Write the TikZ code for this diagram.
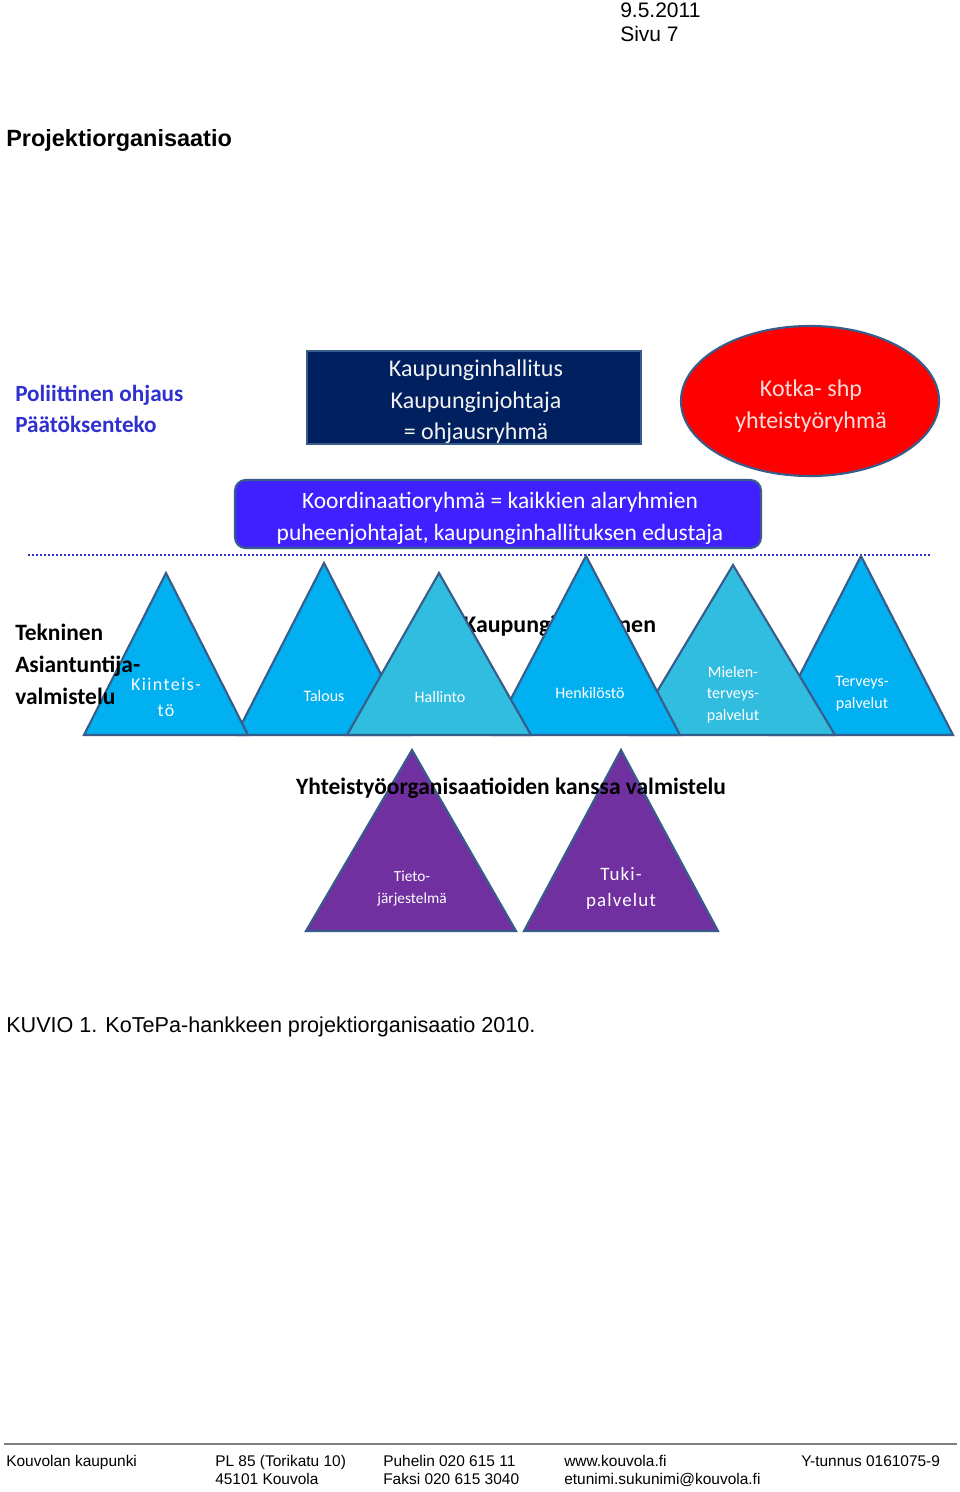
\documentclass[tikz,border=0pt]{standalone}
\usepackage{fontspec}
\setmainfont{Carlito}
\newfontfamily\arial{Liberation Sans}
\definecolor{navy}{HTML}{002060}
\definecolor{edge}{HTML}{385D8A}
\definecolor{polblue}{HTML}{3030D0}
\definecolor{koord}{HTML}{4020FF}
\definecolor{cyanA}{HTML}{00B0F0}
\definecolor{cyanB}{HTML}{31BDE0}
\definecolor{purp}{HTML}{7030A0}
\definecolor{pinkish}{HTML}{F8DCDC}
\tikzset{
  tri/.style={draw=edge, line width=1.6pt, line join=miter},
  tlab/.style={text=white, font=\fontsize{12}{14}\selectfont, anchor=base, align=center},
  bigtxt/.style={font=\fontsize{18}{24}\selectfont, anchor=base},
  hdr/.style={font=\arial\fontsize{15.75}{18}\selectfont, anchor=base west, inner sep=0pt},
  foot/.style={font=\arial\fontsize{11.6}{13}\selectfont, anchor=base west, inner sep=0pt},
}
\begin{document}
\begin{tikzpicture}[x=0.75pt,y=-0.75pt]
\path[fill=white,use as bounding box] (0,0) rectangle (960,1492);
% header
\node[hdr] (date) at (620,17) {9.5.2011};
\node[hdr] (page) at (620,41) {Sivu 7};
\node[font=\arial\bfseries\fontsize{17.6}{20}\selectfont, anchor=base west, inner sep=0pt] (title) at (6,146) {Projektiorganisaatio};
% political
\node[font=\bfseries\fontsize{17.4}{20}\selectfont, text=polblue, anchor=base west, inner sep=0pt] (pol1) at (15,401) {Poliittinen ohjaus};
\node[font=\bfseries\fontsize{17.4}{20}\selectfont, text=polblue, anchor=base west, inner sep=0pt] (pol2) at (15,432) {Päätöksenteko};
% navy box
\path[fill=navy, draw=edge, line width=1.6pt] (307,351) rectangle (641,444);
\node[bigtxt, text=white!95!black] (kh1) at (476,376) {Kaupunginhallitus};
\node[bigtxt, text=white!95!black] (kh2) at (476,408) {Kaupunginjohtaja};
\node[bigtxt, text=white!95!black] (kh3) at (476,439) {= ohjausryhmä};
% red ellipse
\path[fill=red, draw=edge, line width=1.6pt] (810,401) ellipse [x radius=129, y radius=75];
\node[bigtxt, text=pinkish] (ko1) at (811,396) {Kotka- shp};
\node[bigtxt, text=pinkish] (ko2) at (811,428) {yhteistyöryhmä};
% koordinaatio
\path[fill=koord, draw=edge, line width=1.6pt, rounded corners=8pt] (235,480) rectangle (761,548);
\node[bigtxt, font=\fontsize{17.6}{24}\selectfont, text=white] (kr1) at (500,508) {Koordinaatioryhmä = kaikkien alaryhmien};
\node[bigtxt, font=\fontsize{17.6}{24}\selectfont, text=white] (kr2) at (500,540) {puheenjohtajat, kaupunginhallituksen edustaja};
% dotted line
\coordinate (dl) at (28,555);
\coordinate (dr) at (932,555);
\draw[polblue, line width=2pt, dash pattern=on 1.5pt off 1.5pt] (dl) -- (dr);
% text partly hidden behind the triangles
\node[font=\bfseries\fontsize{17.9}{20}\selectfont, anchor=base west, inner sep=0pt] (kaup) at (463,632) {Kaupunginyhteinen};
% triangles
\draw[tri, fill=cyanA] (861,556) -- (953,735) -- (769,735) -- cycle;
\draw[tri, fill=cyanB] (733,565) -- (835,735) -- (631,735) -- cycle;
\draw[tri, fill=cyanA] (586,556) -- (680,735) -- (492,735) -- cycle;
\draw[tri, fill=cyanA] (324,563) -- (412,735) -- (236,735) -- cycle;
\draw[tri, fill=cyanB] (439,573) -- (531,735) -- (347,735) -- cycle;
\draw[tri, fill=cyanA] (166,573) -- (248,735) -- (84,735) -- cycle;
% triangle labels (anchor base = baseline of last line)
\node[tlab, font=\addfontfeature{LetterSpace=8}\fontsize{13.5}{19.5}\selectfont] (kii) at (166,716) {Kiinteis-\\tö};
\node[tlab] (tal) at (324,701) {Talous};
\node[tlab] (hal) at (440,702) {Hallinto};
\node[tlab] (hen) at (590,698) {Henkilöstö};
\node[tlab, font=\fontsize{12}{16}\selectfont] (mie) at (733,720) {Mielen-\\terveys-\\palvelut};
\node[tlab, font=\fontsize{12}{16}\selectfont] (ter) at (862,708) {Terveys-\\palvelut};
% tekninen
\node[font=\bfseries\fontsize{17.6}{24}\selectfont, anchor=base west, inner sep=0pt] (tek1) at (15,640) {Tekninen};
\node[font=\bfseries\fontsize{17.6}{24}\selectfont, anchor=base west, inner sep=0pt] (tek2) at (15,672) {Asiantuntija-};
\node[font=\bfseries\fontsize{17.6}{24}\selectfont, anchor=base west, inner sep=0pt] (tek3) at (15,704) {valmistelu};
% purple
\draw[tri, fill=purp] (412,750) -- (516,931) -- (306,931) -- cycle;
\draw[tri, fill=purp] (621,750) -- (718,931) -- (524,931) -- cycle;
\node[tlab, font=\fontsize{11.5}{16}\selectfont] (tie) at (412,903) {Tieto-\\järjestelmä};
\node[tlab, font=\addfontfeature{LetterSpace=6}\fontsize{14.2}{19.5}\selectfont] (tuk) at (621,906) {Tuki-\\palvelut};
\node[font=\bfseries\fontsize{17.6}{20}\selectfont, anchor=base] (yht) at (511,794) {Yhteistyöorganisaatioiden kanssa valmistelu};
% caption
\node[font=\arial\fontsize{16.2}{18}\selectfont, anchor=base west, inner sep=0pt] (cap) at (6,1032) {KUVIO 1. KoTePa-hankkeen projektiorganisaatio 2010.};
% footer
\coordinate (fl) at (4,1444);
\coordinate (fr) at (957,1444);
\draw[gray, line width=1.6pt] (fl) -- (fr);
\node[foot] (f1) at (6,1466) {Kouvolan kaupunki};
\node[foot] (f2) at (215,1466) {PL 85 (Torikatu 10)};
\node[foot] (f2b) at (215,1484) {45101 Kouvola};
\node[foot] (f3) at (383,1466) {Puhelin 020 615 11};
\node[foot] (f3b) at (383,1484) {Faksi 020 615 3040};
\node[foot] (f4) at (564,1466) {www.kouvola.fi};
\node[foot] (f4b) at (564,1484) {etunimi.sukunimi@kouvola.fi};
\node[foot] (f5) at (801,1466) {Y-tunnus 0161075-9};
\end{tikzpicture}
\end{document}
